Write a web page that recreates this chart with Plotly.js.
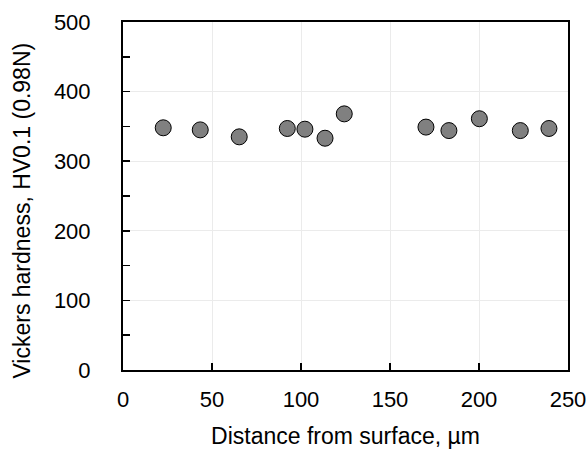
<!DOCTYPE html>
<html><head><meta charset="utf-8">
<script src="https://cdn.plot.ly/plotly-3.0.1.min.js"></script>
<style>html,body{margin:0;padding:0;background:#fff}#c{width:588px;height:449px}</style>
</head><body><div id="c"></div>
<script>
const distance = [22.6, 43.4, 65.3, 92.3, 102.2, 113.5, 124.3, 170.2, 183.1, 200.2, 223.2, 239.3];
const hardness = [348, 345, 335, 347, 346, 333, 368, 349, 344, 361, 344, 347];
const xTicks = [0, 50, 100, 150, 200, 250];
const yTicks = [0, 100, 200, 300, 400, 500];
const xTitle = 'Distance from surface, µm';
const yTitle = 'Vickers hardness, HV0.1 (0.98N)';

const font = {family: 'Liberation Sans, Arial, sans-serif', size: 22, color: '#000'};
const titleFont = {family: 'Liberation Sans, Arial, sans-serif', size: 23, color: '#000'};
Plotly.newPlot('c', [{
  x: distance, y: hardness, type: 'scatter', mode: 'markers',
  marker: {size: 16, color: '#808080', line: {color: '#000', width: 1}}
}], {
  width: 588, height: 449,
  margin: {l: 123, r: 20, t: 22, b: 79},
  paper_bgcolor: '#fff', plot_bgcolor: '#fff',
  showlegend: false,
  font: font,
  xaxis: {
    range: [0, 250], tickvals: xTicks, ticktext: xTicks.map(String),
    ticks: 'inside', ticklen: 7, tickwidth: 1.5, tickcolor: '#000',
    showline: true, linewidth: 2, linecolor: '#000', mirror: true,
    showgrid: true, gridcolor: '#ebebeb', gridwidth: 1, zeroline: false,
    ticklabelstandoff: 9,
    tickfont: font,
    title: {text: xTitle, font: titleFont, standoff: 16}
  },
  yaxis: {
    range: [0, 500], tickvals: yTicks, ticktext: yTicks.map(String),
    ticks: 'inside', ticklen: 7, tickwidth: 1.5, tickcolor: '#000',
    minor: {dtick: 50, tick0: 0, ticks: 'inside', ticklen: 7, tickwidth: 1.5, tickcolor: '#000', showgrid: false},
    showline: true, linewidth: 2, linecolor: '#000', mirror: true,
    showgrid: true, gridcolor: '#ebebeb', gridwidth: 1, zeroline: false,
    ticklabelstandoff: 26,
    tickfont: font
  },
  annotations: [{
    text: yTitle, textangle: -90, showarrow: false,
    xref: 'paper', yref: 'paper', x: -0.227, y: 0.458,
    xanchor: 'center', yanchor: 'middle', font: titleFont
  }]
}, {displayModeBar: false, staticPlot: true});
</script>
</body></html>
